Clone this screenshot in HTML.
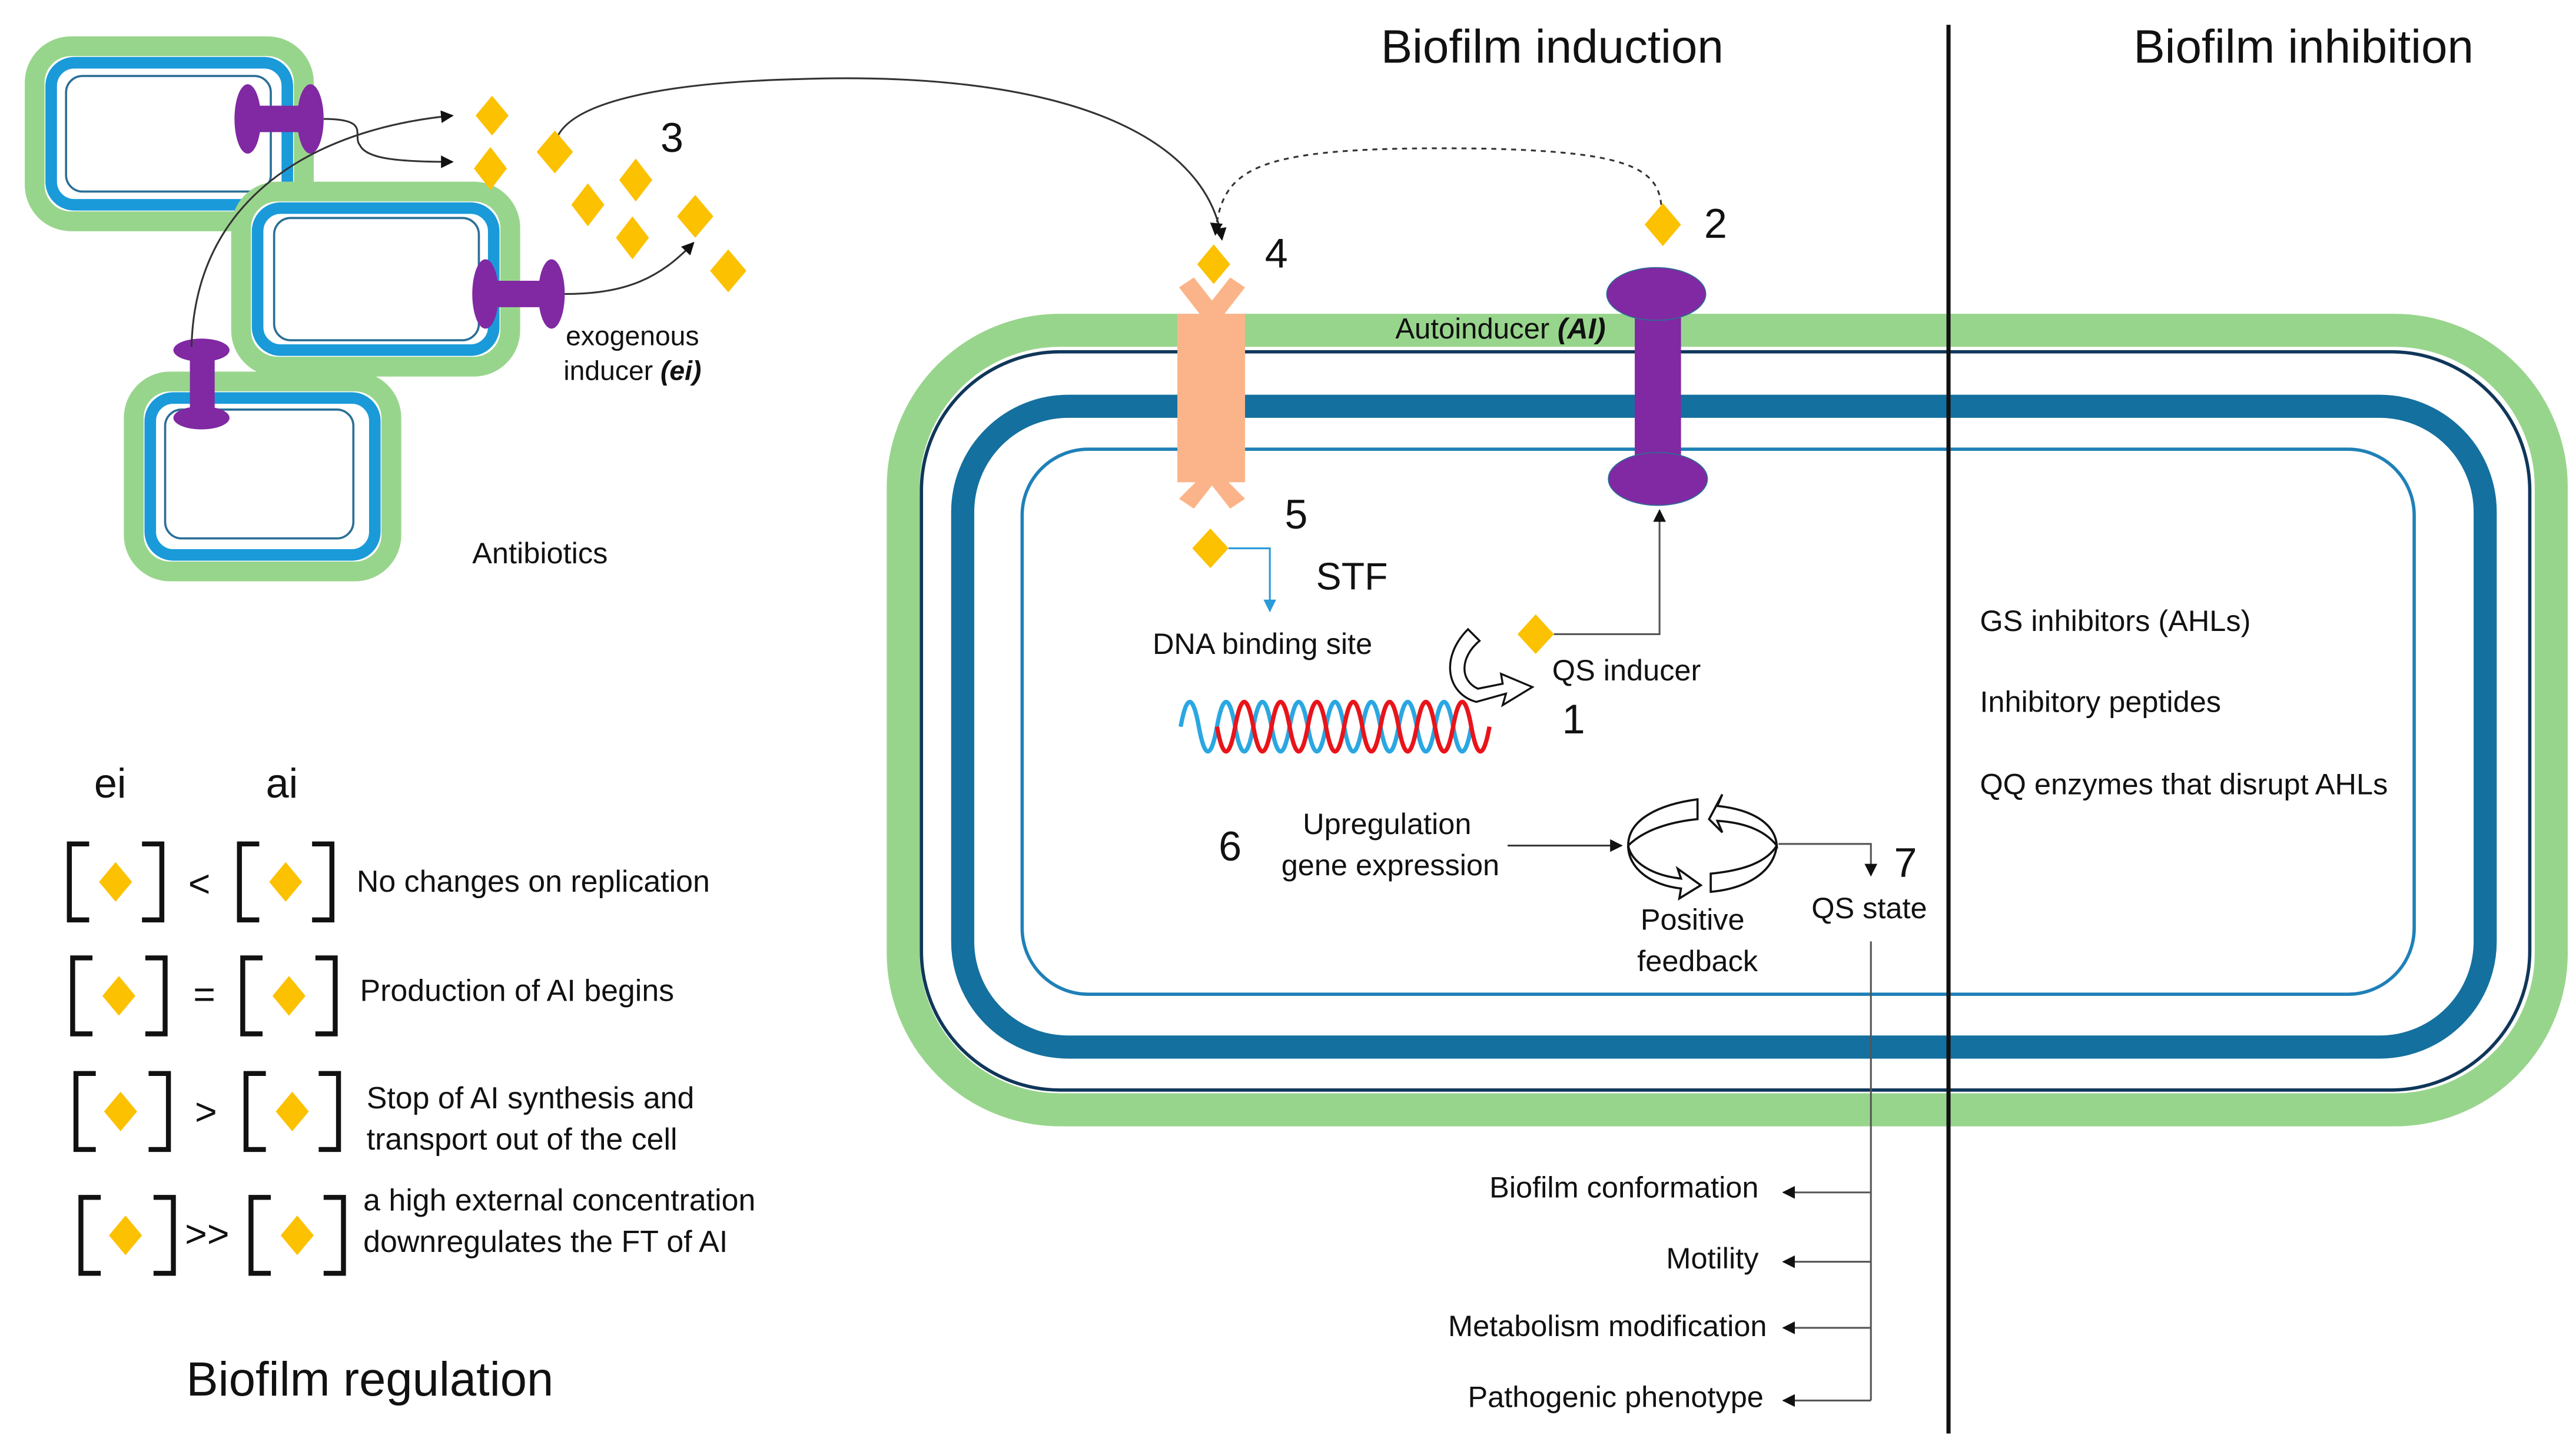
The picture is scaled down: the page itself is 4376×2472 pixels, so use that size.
<!DOCTYPE html>
<html><head><meta charset="utf-8"><style>
html,body{margin:0;padding:0;background:#fff}
svg{display:block}
text{font-family:"Liberation Sans","DejaVu Sans",sans-serif;fill:#111}
</style></head><body>
<svg width="4376" height="2472" viewBox="0 0 1560 881" preserveAspectRatio="none" xmlns="http://www.w3.org/2000/svg">
<defs>
<marker id="ah" viewBox="0 0 10 10" refX="9" refY="5" markerWidth="7" markerHeight="7" orient="auto"><path d="M0,0L10,5L0,10z" fill="#111"/></marker>
<marker id="ahb" viewBox="0 0 10 10" refX="9" refY="5" markerWidth="7" markerHeight="7" orient="auto"><path d="M0,0L10,5L0,10z" fill="#2a9ad8"/></marker>
</defs>
<rect width="1560" height="881" fill="#fff"/>

<g>
<rect x="21" y="28" width="163" height="106" rx="22" fill="none" stroke="#98d58c" stroke-width="12"/>
<rect x="31" y="38" width="143" height="86" rx="14" fill="#fff" stroke="#1a9ad9" stroke-width="7"/>
<rect x="40" y="46" width="124" height="70" rx="10" fill="none" stroke="#2b6f96" stroke-width="1.3"/>

<rect x="146" y="116" width="163" height="106" rx="22" fill="#fff" stroke="#98d58c" stroke-width="12"/>
<rect x="156" y="126" width="143" height="86" rx="14" fill="#fff" stroke="#1a9ad9" stroke-width="7"/>
<rect x="166" y="132" width="124" height="74" rx="10" fill="none" stroke="#2b6f96" stroke-width="1.3"/>

<rect x="81" y="231" width="156" height="115" rx="22" fill="#fff" stroke="#98d58c" stroke-width="12"/>
<rect x="91" y="241" width="136" height="95" rx="14" fill="#fff" stroke="#1a9ad9" stroke-width="7"/>
<rect x="100" y="248" width="114" height="78" rx="10" fill="none" stroke="#2b6f96" stroke-width="1.3"/>
</g>
<g fill="#8029a3">
<rect x="150" y="64" width="40" height="16"/><ellipse cx="150" cy="72" rx="8" ry="21"/><ellipse cx="188" cy="72" rx="8" ry="21"/>
<rect x="294" y="170" width="40" height="16"/><ellipse cx="294" cy="178" rx="8" ry="21"/><ellipse cx="334" cy="178" rx="8" ry="21"/>
<rect x="115" y="212" width="15" height="42"/><ellipse cx="122" cy="212" rx="17" ry="7"/><ellipse cx="122" cy="253" rx="17" ry="7"/>
</g>
<g fill="none" stroke="#333" stroke-width="1.1">
<path d="M196,72 C225,72 213,82 218,88 C222,96 240,98 274,98" marker-end="url(#ah)"/>
<path d="M116,210 C118,120 190,78 274,70" marker-end="url(#ah)"/>
<path d="M342,178 C380,178 400,168 420,147" marker-end="url(#ah)"/>
<path d="M336,88 C340,60 410,50 480,48 C640,42 730,80 740,145" marker-end="url(#ah)"/>
<path d="M1006,124 C1004,100 980,92 900,90 C760,88 740,100 736,142" stroke-dasharray="3,3" marker-end="url(#ah)"/>
</g>
<g fill="#fcc101">
<polygon points="298,58 308,70 298,82 288,70"/>
<polygon points="297,89 307,102 297,115 287,102"/>
<polygon points="336,79 347,92 336,105 325,92"/>
<polygon points="385,96 395,109 385,122 375,109"/>
<polygon points="356,111 366,124 356,137 346,124"/>
<polygon points="383,131 393,144 383,157 373,144"/>
<polygon points="421,118 432,131 421,144 410,131"/>
<polygon points="441,151 452,164 441,177 430,164"/>
<polygon points="1007,123 1018,136 1007,149 996,136"/>
<polygon points="735,148 745,160 735,172 725,160"/>
<polygon points="733,320 744,332 733,344 722,332"/>
<polygon points="930,372 941,384 930,396 919,384"/>
</g>
<text x="400" y="92" font-size="25">3</text>
<text x="1032" y="144" font-size="25">2</text>
<text x="766" y="162" font-size="25">4</text>
<text x="778" y="320" font-size="25">5</text>
<text x="946" y="444" font-size="25">1</text>
<text x="738" y="521" font-size="25">6</text>
<text x="1147" y="531" font-size="25">7</text>
<text x="383" y="209" font-size="16.5" text-anchor="middle">exogenous</text>
<text x="383" y="230" font-size="16.5" text-anchor="middle">inducer <tspan font-weight="bold" font-style="italic">(ei)</tspan></text>
<text x="286" y="341" font-size="18">Antibiotics</text>

<rect x="547" y="200" width="998" height="472" rx="95" fill="none" stroke="#98d58c" stroke-width="20"/>
<rect x="558" y="213" width="974" height="447" rx="84" fill="none" stroke="#10375a" stroke-width="2"/>
<rect x="583" y="246" width="922" height="388" rx="64" fill="none" stroke="#14709f" stroke-width="14"/>
<rect x="619" y="272" width="843" height="330" rx="40" fill="none" stroke="#1f80b8" stroke-width="2"/>
<text x="845" y="205" font-size="17.5">Autoinducer <tspan font-weight="bold" font-style="italic">(AI)</tspan></text>

<line x1="1180" y1="15" x2="1180" y2="868" stroke="#111" stroke-width="2.5"/>
<text x="940" y="38" font-size="28.5" text-anchor="middle">Biofilm induction</text>
<text x="1395" y="38" font-size="28.5" text-anchor="middle">Biofilm inhibition</text>

<g fill="#fbb48a">
<rect x="713" y="190" width="41" height="102"/>
<polygon points="714,174 723,168 734,182 745,168 754,174 740,192 728,192"/>
<polygon points="714,302 723,308 734,294 745,308 754,302 740,288 728,288"/>
</g>
<g fill="#8029a3" stroke="#2b6f96" stroke-width="0.6">
<rect x="990" y="180" width="28" height="110" stroke="none"/>
<ellipse cx="1003" cy="178" rx="30" ry="16"/>
<ellipse cx="1004" cy="290" rx="30" ry="16"/>
</g>
<path d="M941,384 L1005,384 L1005,309" fill="none" stroke="#555" stroke-width="1.1" marker-end="url(#ah)"/>
<path d="M744,332 L769,332 L769,370" fill="none" stroke="#2a9ad8" stroke-width="1.1" marker-end="url(#ahb)"/>
<text x="797" y="357" font-size="23">STF</text>
<text x="698" y="396" font-size="18">DNA binding site</text>
<text x="940" y="412" font-size="18">QS inducer</text>
<path d="M889,381 C872,398 876,420 894,425 L912,420 L910,427 L928,416 L909,408 L910,414 L895,417 C884,412 884,398 896,388 Z" fill="#fff" stroke="#111" stroke-width="1.2"/>
<path d="M715,440 q5.5,-30 11,0 q5.5,30 11,0 q5.5,-30 11,0 q5.5,30 11,0 q5.5,-30 11,0 q5.5,30 11,0 q5.5,-30 11,0 q5.5,30 11,0 q5.5,-30 11,0 q5.5,30 11,0 q5.5,-30 11,0 q5.5,30 11,0 q5.5,-30 11,0 q5.5,30 11,0 q5.5,-30 11,0 q5.5,30 11,0" fill="none" stroke="#2aa7e2" stroke-width="2.6"/>
<path d="M737,440 q5.5,30 11,0 q5.5,-30 11,0 q5.5,30 11,0 q5.5,-30 11,0 q5.5,30 11,0 q5.5,-30 11,0 q5.5,30 11,0 q5.5,-30 11,0 q5.5,30 11,0 q5.5,-30 11,0 q5.5,30 11,0 q5.5,-30 11,0 q5.5,30 11,0 q5.5,-30 11,0 q5.5,30 11,0" fill="none" stroke="#e8141a" stroke-width="2.6"/>

<text x="840" y="505" font-size="18" text-anchor="middle">Upregulation</text>
<text x="842" y="530" font-size="18" text-anchor="middle">gene expression</text>
<line x1="913" y1="512" x2="982" y2="512" stroke="#333" stroke-width="1.1" marker-end="url(#ah)"/>
<g fill="#fff" stroke="#111" stroke-width="1.3">
<path d="M986,512 C986,496 1005,487 1028,484 L1028,496 C1008,498 994,504 986,512 Z"/>
<path d="M1035,496 L1043,481 L1040,488 C1060,490 1075,498 1076,512 C1068,502 1055,498 1040,497 L1043,504 Z"/>
<path d="M986,512 C988,522 1000,530 1018,532 L1016,526 L1030,536 L1017,544 L1018,538 C1000,536 986,526 986,512 Z"/>
<path d="M1076,512 C1074,528 1058,538 1036,540 L1036,529 C1056,527 1070,522 1076,512 Z"/>
</g>
<text x="1025" y="563" font-size="18" text-anchor="middle">Positive</text>
<text x="1028" y="588" font-size="18" text-anchor="middle">feedback</text>
<path d="M1077,511 L1133,511 L1133,530" fill="none" stroke="#555" stroke-width="1.1" marker-end="url(#ah)"/>
<text x="1132" y="556" font-size="18" text-anchor="middle">QS state</text>
<g fill="none" stroke="#555" stroke-width="1.1">
<path d="M1133,570 L1133,848"/>
<path d="M1133,722 L1080,722" marker-end="url(#ah)"/>
<path d="M1133,764 L1080,764" marker-end="url(#ah)"/>
<path d="M1133,804 L1080,804" marker-end="url(#ah)"/>
<path d="M1133,848 L1080,848" marker-end="url(#ah)"/>
</g>
<g font-size="18" text-anchor="end">
<text x="1065" y="725">Biofilm conformation</text>
<text x="1065" y="768">Motility</text>
<text x="1070" y="809">Metabolism modification</text>
<text x="1068" y="852">Pathogenic phenotype</text>
</g>
<g font-size="18">
<text x="1199" y="382">GS inhibitors (AHLs)</text>
<text x="1199" y="431">Inhibitory peptides</text>
<text x="1199" y="481">QQ enzymes that disrupt AHLs</text>
</g>

<text x="57" y="483" font-size="25">ei</text>
<text x="161" y="483" font-size="25">ai</text>
<g fill="none" stroke="#111" stroke-width="3">
<path d="M54,511 L42,511 L42,557 L54,557 M86,511 L98,511 L98,557 L86,557"/>
<path d="M157,511 L145,511 L145,557 L157,557 M189,511 L201,511 L201,557 L189,557"/>
<path d="M56,580 L44,580 L44,626 L56,626 M88,580 L100,580 L100,626 L88,626"/>
<path d="M159,580 L147,580 L147,626 L159,626 M191,580 L203,580 L203,626 L191,626"/>
<path d="M58,650 L46,650 L46,696 L58,696 M90,650 L102,650 L102,696 L90,696"/>
<path d="M161,650 L149,650 L149,696 L161,696 M193,650 L205,650 L205,696 L193,696"/>
<path d="M61,725 L49,725 L49,771 L61,771 M93,725 L105,725 L105,771 L93,771"/>
<path d="M164,725 L152,725 L152,771 L164,771 M196,725 L208,725 L208,771 L196,771"/>
</g>
<g fill="#fcc101">
<polygon points="70,522 80,534 70,546 60,534"/><polygon points="173,522 183,534 173,546 163,534"/>
<polygon points="72,591 82,603 72,615 62,603"/><polygon points="175,591 185,603 175,615 165,603"/>
<polygon points="73,661 83,673 73,685 63,673"/><polygon points="177,661 187,673 177,685 167,673"/>
<polygon points="76,736 86,748 76,760 66,748"/><polygon points="180,736 190,748 180,760 170,748"/>
</g>
<g font-size="23"><text x="114" y="543">&lt;</text><text x="117" y="610">=</text><text x="118" y="681">&gt;</text><text x="112" y="755">&gt;&gt;</text></g>
<g font-size="18.5">
<text x="216" y="540">No changes on replication</text>
<text x="218" y="606">Production of AI begins</text>
<text x="222" y="671">Stop of AI synthesis and</text>
<text x="222" y="696">transport out of the cell</text>
<text x="220" y="733">a high external concentration</text>
<text x="220" y="758">downregulates the FT of AI</text>
</g>
<text x="224" y="845" font-size="29" text-anchor="middle">Biofilm regulation</text>
</svg>
</body></html>
